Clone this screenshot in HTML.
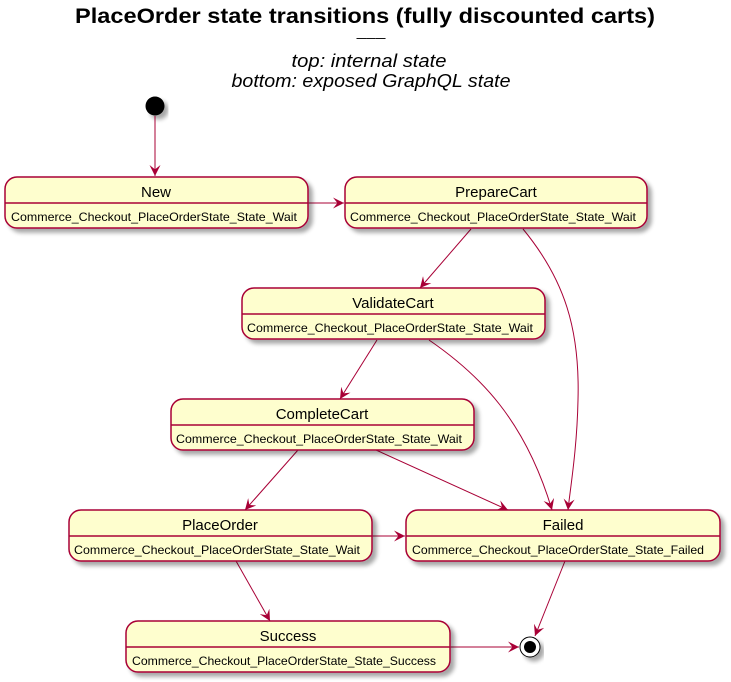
<!DOCTYPE html>
<html><head><meta charset="utf-8"><style>
html,body{margin:0;padding:0;background:#fff;}
svg{display:block;font-family:"Liberation Sans",sans-serif;}
</style></head><body>
<svg width="731" height="682" viewBox="0 0 731 682" xmlns="http://www.w3.org/2000/svg">
<defs>
<filter id="sh" x="-10%" y="-20%" width="130%" height="160%"><feGaussianBlur in="SourceAlpha" stdDeviation="2"/><feOffset dx="4" dy="4"/><feComponentTransfer><feFuncA type="linear" slope="0.35"/></feComponentTransfer><feMerge><feMergeNode/><feMergeNode in="SourceGraphic"/></feMerge></filter>
<marker id="ar" viewBox="0 0 10 10" refX="10" refY="5" markerWidth="11" markerHeight="11" markerUnits="userSpaceOnUse" orient="auto"><path d="M0,0 L10,5 L0,10 L4,5 Z" fill="#A80036"/></marker>
</defs>
<text x="365" y="23" text-anchor="middle" font-size="21" font-weight="bold" textLength="580" lengthAdjust="spacingAndGlyphs">PlaceOrder state transitions (fully discounted carts)</text>
<text x="371" y="42" text-anchor="middle" font-size="14" textLength="29" lengthAdjust="spacingAndGlyphs">–––</text>
<text x="369" y="67" text-anchor="middle" font-size="18" font-style="italic" textLength="155" lengthAdjust="spacingAndGlyphs">top: internal state</text>
<text x="371" y="87" text-anchor="middle" font-size="18" font-style="italic" textLength="279" lengthAdjust="spacingAndGlyphs">bottom: exposed GraphQL state</text>

<circle cx="155" cy="106" r="9.5" fill="#000" filter="url(#sh)"/>

<g fill="none" stroke="#A80036" stroke-width="1">
<path d="M155,116 L155,176" marker-end="url(#ar)"/>
<path d="M308,203 L344,203" marker-end="url(#ar)"/>
<path d="M471,229 L420,288" marker-end="url(#ar)"/>
<path d="M523,229 C565,280 580,330 578,400 C577,450 570,490 568,510" marker-end="url(#ar)"/>
<path d="M377,340 L340,399" marker-end="url(#ar)"/>
<path d="M429,340 C480,375 525,420 552,510" marker-end="url(#ar)"/>
<path d="M298,450 L245,510" marker-end="url(#ar)"/>
<path d="M376,450 L508,510" marker-end="url(#ar)"/>
<path d="M372,536 L405,536" marker-end="url(#ar)"/>
<path d="M236,561 L270,621" marker-end="url(#ar)"/>
<path d="M565,561 L535,636" marker-end="url(#ar)"/>
<path d="M450,647 L519,647" marker-end="url(#ar)"/>
</g>

<circle cx="530" cy="647" r="10" fill="#fff" stroke="#000" stroke-width="1" filter="url(#sh)"/>
<circle cx="530" cy="647" r="6" fill="#000"/>

<g font-size="15" text-anchor="middle">
<g><rect x="5" y="177" width="303" height="51" rx="12" fill="#FEFECE" stroke="#A80036" stroke-width="1.5" filter="url(#sh)"/><line x1="5" y1="203" x2="308" y2="203" stroke="#A80036" stroke-width="1.5"/><text x="156" y="197">New</text><text x="11" y="221" font-size="12" text-anchor="start" textLength="286" lengthAdjust="spacingAndGlyphs">Commerce_Checkout_PlaceOrderState_State_Wait</text></g>
<g><rect x="345" y="177" width="302" height="51" rx="12" fill="#FEFECE" stroke="#A80036" stroke-width="1.5" filter="url(#sh)"/><line x1="345" y1="203" x2="647" y2="203" stroke="#A80036" stroke-width="1.5"/><text x="496" y="197">PrepareCart</text><text x="350" y="221" font-size="12" text-anchor="start" textLength="286" lengthAdjust="spacingAndGlyphs">Commerce_Checkout_PlaceOrderState_State_Wait</text></g>
<g><rect x="242" y="288" width="303" height="51" rx="12" fill="#FEFECE" stroke="#A80036" stroke-width="1.5" filter="url(#sh)"/><line x1="242" y1="314" x2="545" y2="314" stroke="#A80036" stroke-width="1.5"/><text x="393" y="308">ValidateCart</text><text x="247" y="332" font-size="12" text-anchor="start" textLength="286" lengthAdjust="spacingAndGlyphs">Commerce_Checkout_PlaceOrderState_State_Wait</text></g>
<g><rect x="171" y="399" width="303" height="51" rx="12" fill="#FEFECE" stroke="#A80036" stroke-width="1.5" filter="url(#sh)"/><line x1="171" y1="425" x2="474" y2="425" stroke="#A80036" stroke-width="1.5"/><text x="322" y="419">CompleteCart</text><text x="176" y="443" font-size="12" text-anchor="start" textLength="286" lengthAdjust="spacingAndGlyphs">Commerce_Checkout_PlaceOrderState_State_Wait</text></g>
<g><rect x="69" y="510" width="303" height="51" rx="12" fill="#FEFECE" stroke="#A80036" stroke-width="1.5" filter="url(#sh)"/><line x1="69" y1="536" x2="372" y2="536" stroke="#A80036" stroke-width="1.5"/><text x="220" y="530">PlaceOrder</text><text x="74" y="554" font-size="12" text-anchor="start" textLength="286" lengthAdjust="spacingAndGlyphs">Commerce_Checkout_PlaceOrderState_State_Wait</text></g>
<g><rect x="406" y="510" width="314" height="51" rx="12" fill="#FEFECE" stroke="#A80036" stroke-width="1.5" filter="url(#sh)"/><line x1="406" y1="536" x2="720" y2="536" stroke="#A80036" stroke-width="1.5"/><text x="563" y="530">Failed</text><text x="412" y="554" font-size="12" text-anchor="start" textLength="292" lengthAdjust="spacingAndGlyphs">Commerce_Checkout_PlaceOrderState_State_Failed</text></g>
<g><rect x="126" y="621" width="324" height="51" rx="12" fill="#FEFECE" stroke="#A80036" stroke-width="1.5" filter="url(#sh)"/><line x1="126" y1="647" x2="450" y2="647" stroke="#A80036" stroke-width="1.5"/><text x="288" y="641">Success</text><text x="132" y="665" font-size="12" text-anchor="start" textLength="304" lengthAdjust="spacingAndGlyphs">Commerce_Checkout_PlaceOrderState_State_Success</text></g>
</g>
</svg>
</body></html>
